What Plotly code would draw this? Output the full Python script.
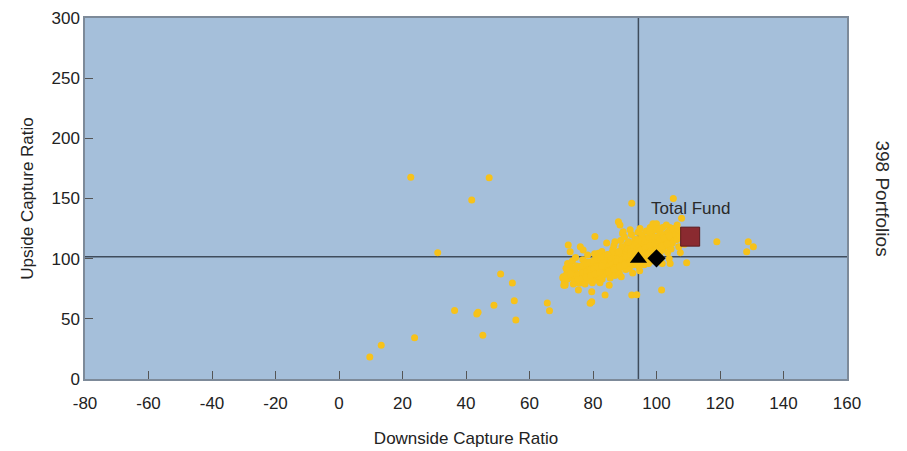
import plotly.graph_objects as go

# ---- data ----
cluster_down = [
    70.5, 71.0, 71.8, 72.2, 72.8, 71.5, 72.0, 70.8, 70.6, 71.2, 71.2,
    73.5, 74.0, 74.2, 74.8, 75.4, 73.8, 75.0, 74.5, 73.0, 75.4, 75.9, 76.9,
    76.0, 76.5, 77.0, 77.2, 77.8, 76.8, 78.0, 77.5, 76.2, 78.3, 77.8,
    79.6, 80.6, 79.0, 79.5, 80.0, 80.3, 80.8, 81.0, 79.2, 81.4, 80.5, 79.8, 81.2, 80.1, 81.7, 79.6, 79.1,
    82.0, 82.3, 82.6, 83.0, 83.3, 83.8, 82.8, 83.5, 84.0, 84.2, 82.2, 83.7, 84.5, 82.9, 84.3, 83.1,
    85.0, 85.2, 85.5, 85.8, 86.0, 86.2, 86.5, 86.8, 87.0, 87.2, 85.4, 86.3, 87.5, 85.7, 86.9, 87.3, 85.1, 86.6, 87.8, 85.9, 86.9,
    88.0, 88.5, 88.0, 88.2, 88.5, 88.8, 89.0, 89.2, 89.5, 89.8, 90.0, 90.2, 88.3, 89.1, 90.5, 88.7, 89.6, 90.8, 88.1, 89.9, 90.3, 88.9, 90.6, 89.3, 90.9, 89.5,
    91.0, 91.3, 91.5, 91.8, 92.0, 92.2, 92.2, 92.4, 92.6, 92.8, 93.0, 93.2, 91.4, 92.1, 93.4, 91.7, 92.9, 93.5, 91.2, 92.5, 93.7, 91.9, 93.1, 92.3,
    94.0, 94.3, 94.6, 94.9, 95.2, 95.5, 95.8, 96.0, 94.2, 95.0, 96.2, 94.8, 95.6, 96.4, 94.4, 95.3, 96.6, 95.9, 94.1, 96.8, 95.1, 96.1, 94.7, 93.8,
    97.0, 97.3, 97.6, 97.9, 98.2, 98.5, 98.8, 99.0, 99.3, 99.6, 97.2, 98.0, 98.7, 99.4, 97.5, 99.8, 98.4, 97.8, 99.1, 98.9,
    100.0, 100.2, 100.5, 100.8, 101.0, 101.3, 101.6, 101.6, 101.9, 102.2, 100.4, 102.5, 101.2, 100.7, 102.0, 102.8, 100.1, 101.8,
    103.0, 103.3, 103.6, 103.9, 104.2, 104.5, 104.8, 105.0, 105.3, 103.5, 104.0, 105.2, 104.6, 103.1, 105.6, 104.3,
    106.0, 106.4, 106.8, 107.2, 107.9, 107.0, 108.0, 106.5, 108.5, 109.5, 107.5, 108.8,
    84.5, 86.0, 87.5, 89.0, 90.5, 92.0, 93.5, 95.0, 96.5, 98.0, 99.5, 101.0, 102.5, 104.0,
    83.0, 84.8, 86.4, 88.2, 89.8, 91.6, 93.2, 94.8, 96.6, 98.3, 100.1, 101.8, 103.4,
    80.5, 82.0, 83.6, 85.2, 87.0, 88.6, 90.4, 92.0, 93.8, 95.4, 97.2, 99.0,
    78.5, 80.0, 81.6, 83.3, 84.9, 86.7, 88.4, 90.0, 91.8, 93.5,
    72.5, 73.6, 74.7, 75.8, 76.9, 78.0, 79.1, 80.2, 81.3, 82.4, 83.5, 84.6,
    72.0, 73.2, 74.4, 75.6, 76.8, 78.0, 79.2, 80.4, 81.6, 82.8,
    71.5, 72.9, 74.1, 75.3, 76.6, 77.9, 79.3, 80.7, 82.1,
]
cluster_up = [
    84.0, 80.0, 88.0, 111.4, 105.8, 92.0, 96.0, 78.0, 85.0, 79.5, 78.0,
    98.0, 84.0, 90.0, 94.0, 74.0, 79.0, 87.0, 101.0, 93.0, 79.7, 79.7, 107.2,
    110.0, 82.0, 90.0, 95.0, 86.0, 99.0, 92.0, 79.0, 88.0, 103.0, 97.0,
    72.5, 118.5, 84.0, 89.0, 93.0, 86.0, 98.0, 90.0, 96.0, 82.0, 104.0, 80.0, 94.0, 88.0, 104.4, 64.3, 63.0,
    85.0, 92.0, 96.0, 89.0, 100.0, 69.8, 106.0, 94.0, 87.0, 98.0, 80.0, 91.0, 103.0, 83.0, 113.0, 97.0,
    90.0, 95.0, 99.0, 87.0, 93.0, 102.0, 96.0, 90.0, 98.0, 105.0, 84.0, 108.0, 93.0, 101.0, 86.0, 100.0, 78.0, 111.0, 96.0, 105.0, 114.1,
    130.7, 128.0, 92.0, 97.0, 101.0, 95.0, 104.0, 99.0, 93.0, 107.0, 102.0, 97.0, 88.0, 110.0, 105.0, 115.0, 100.0, 95.0, 106.0, 118.0, 91.0, 85.0, 112.0, 121.0, 108.0, 122.4,
    100.0, 96.0, 104.0, 108.0, 99.0, 146.0, 69.8, 102.0, 112.0, 95.0, 106.0, 116.0, 92.0, 120.0, 100.0, 124.0, 110.0, 97.0, 114.0, 88.0, 113.0, 106.0, 104.0, 95.0,
    100.0, 106.0, 110.0, 103.0, 114.0, 108.0, 118.0, 104.0, 122.0, 97.0, 112.0, 125.0, 101.0, 109.0, 94.0, 120.0, 116.0, 99.0, 116.0, 123.0, 106.0, 95.0, 90.0, 70.0,
    108.0, 113.0, 118.0, 104.0, 110.0, 121.0, 115.0, 107.0, 112.0, 124.0, 100.0, 126.0, 102.0, 118.0, 96.0, 110.0, 106.0, 122.0, 98.0, 129.0,
    129.0, 114.0, 118.0, 110.0, 122.0, 106.0, 74.0, 116.0, 126.0, 112.0, 104.0, 120.0, 101.0, 125.0, 108.0, 116.0, 98.0, 96.0,
    118.0, 114.0, 122.0, 110.0, 126.0, 117.0, 121.0, 113.0, 150.0, 105.0, 100.0, 125.0, 108.0, 128.0, 118.0, 96.0,
    120.0, 116.0, 124.0, 119.0, 133.5, 110.0, 122.0, 128.0, 117.0, 96.7, 105.0, 112.0,
    93.0, 95.0, 97.5, 99.0, 101.0, 103.0, 105.0, 107.0, 109.0, 111.0, 113.0, 115.0, 117.0, 119.0,
    88.0, 90.0, 92.0, 94.0, 96.5, 98.5, 100.5, 102.5, 104.5, 106.5, 108.5, 110.5, 112.5,
    84.0, 86.0, 88.0, 90.0, 92.0, 94.0, 96.0, 98.0, 100.0, 102.0, 104.0, 106.0,
    82.0, 84.0, 85.5, 87.0, 89.0, 91.0, 93.0, 95.0, 97.0, 99.0,
    90.0, 91.0, 92.5, 93.5, 94.5, 96.0, 97.0, 98.5, 99.5, 101.0, 102.0, 103.5,
    83.0, 84.5, 85.5, 86.5, 88.0, 89.0, 90.5, 91.5, 93.0, 94.0,
    86.0, 87.5, 81.0, 82.5, 83.5, 84.5, 86.0, 87.0, 88.5,
]
outlier_down = [22.6, 47.3, 41.8, 31.1, 50.9, 54.6, 55.2, 48.8, 55.7, 43.4, 43.8, 36.4,
                45.3, 23.8, 13.3, 9.7, 65.6, 66.3, 119.0, 128.9, 130.5, 128.4]
outlier_up = [167.6, 167.3, 148.8, 105.0, 87.3, 79.8, 65.0, 61.2, 49.0, 54.0, 55.5, 57.0,
              36.3, 34.3, 28.0, 18.3, 63.2, 56.8, 114.0, 114.0, 110.0, 105.8]

median_point = [94.3, 99.7]      # triangle
benchmark_point = [100.0, 100.3]  # diamond
total_fund = [110.6, 118.3]       # square
ref_x = 94.3
ref_y = 101.5

x_ticks = list(range(-80, 161, 20))
y_ticks = list(range(0, 301, 50))

FONT = "Arial, Liberation Sans, sans-serif"

fig = go.Figure()
fig.add_trace(go.Scatter(
    x=cluster_down + outlier_down, y=cluster_up + outlier_up, mode="markers",
    marker=dict(size=7, color="#f7c21a", line=dict(width=0)),
    hoverinfo="x+y", showlegend=False))
fig.add_trace(go.Scatter(
    x=[median_point[0]], y=[median_point[1]], mode="markers",
    marker=dict(symbol="triangle-up", size=15, color="#000000"), showlegend=False))
fig.add_trace(go.Scatter(
    x=[benchmark_point[0]], y=[benchmark_point[1]], mode="markers",
    marker=dict(symbol="diamond", size=14, color="#000000"), showlegend=False))
fig.add_trace(go.Scatter(
    x=[total_fund[0]], y=[total_fund[1]], mode="markers",
    marker=dict(symbol="square", size=19, color="#8a2a30", line=dict(color="#5c1a1f", width=1)),
    showlegend=False))

fig.add_shape(type="line", xref="x", yref="paper", x0=ref_x, x1=ref_x, y0=0, y1=1,
              line=dict(color="#3f4c5c", width=1.5), layer="below")
fig.add_shape(type="line", xref="paper", yref="y", x0=0, x1=1, y0=ref_y, y1=ref_y,
              line=dict(color="#3f4c5c", width=1.5), layer="below")

fig.add_annotation(x=total_fund[0], y=142, xref="x", yref="y", text="Total Fund",
                   showarrow=False, font=dict(family=FONT, size=17, color="#2a2a2a"))
fig.add_annotation(x=1.046, y=0.5, xref="paper", yref="paper", text="398 Portfolios",
                   textangle=90, showarrow=False, xanchor="center", yanchor="middle",
                   font=dict(family=FONT, size=19, color="#2a2a2a"))

fig.update_xaxes(range=[-80, 160], tickvals=x_ticks, ticktext=[str(v) for v in x_ticks],
                 ticks="inside", ticklen=8, tickcolor="#555555", tickwidth=1,
                 ticklabelstandoff=8,
                 showgrid=False, zeroline=False, showline=True, mirror=True,
                 linecolor="#7d8a99", linewidth=1.5, automargin=False,
                 tickfont=dict(family=FONT, size=17, color="#222222"),
                 title=dict(text="Downside Capture Ratio", standoff=20,
                            font=dict(family=FONT, size=17, color="#222222")))
fig.update_yaxes(range=[0, 300], tickvals=y_ticks, ticktext=[str(v) for v in y_ticks],
                 ticks="inside", ticklen=8, tickcolor="#555555", tickwidth=1,
                 showgrid=False, zeroline=False, showline=True, mirror=True,
                 linecolor="#7d8a99", linewidth=1.5, automargin=False,
                 tickfont=dict(family=FONT, size=17, color="#222222"),
                 title=dict(text="Upside Capture Ratio", standoff=14,
                            font=dict(family=FONT, size=17, color="#222222")))

# the page adds an 8px body margin, so the figure is offset by (8, 8)
fig.update_layout(
    width=899, height=443,
    margin=dict(l=77, r=60, t=10, b=72, autoexpand=False),
    paper_bgcolor="#ffffff", plot_bgcolor="#a5bfda",
    showlegend=False,
)

fig.write_html("out.html")
